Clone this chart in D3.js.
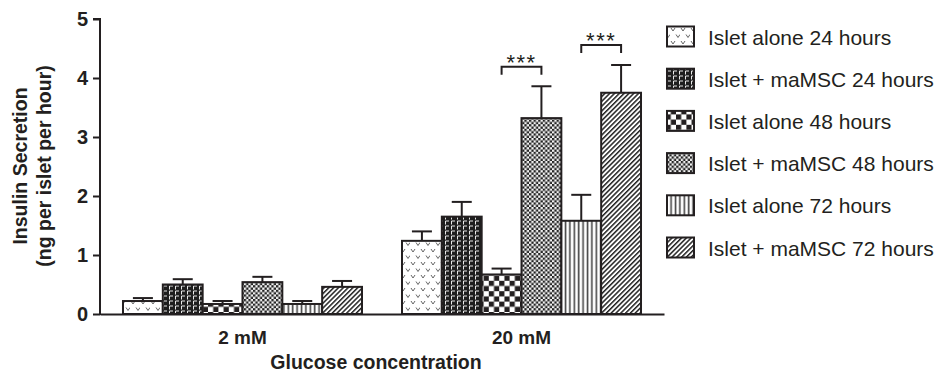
<!DOCTYPE html>
<html>
<head>
<meta charset="utf-8">
<script src="https://cdn.jsdelivr.net/npm/d3@7"></script>
<style>
  body { margin: 0; background: #fff; }
  svg { display: block; font-family: "Liberation Sans", Arial, sans-serif; }
</style>
</head>
<body>
<svg id="chart"></svg>
<script>
// data
let groups = ["2 mM", "20 mM"];
let series = ["Islet alone 24 hours", "Islet + maMSC 24 hours", "Islet alone 48 hours",
              "Islet + maMSC 48 hours", "Islet alone 72 hours", "Islet + maMSC 72 hours"];
let means2mM = [0.22, 0.50, 0.17, 0.54, 0.17, 0.46];
let means20mM = [1.24, 1.65, 0.67, 3.32, 1.58, 3.75];
let sem2mM = [0.05, 0.09, 0.05, 0.09, 0.05, 0.10];
let sem20mM = [0.16, 0.25, 0.10, 0.54, 0.44, 0.47];
let yTicks = [0, 1, 2, 3, 4, 5];
// significance brackets: group, the two series compared, bracket level (data units)
let sigGroup = ["20 mM", "20 mM"];
let sigFrom = [2, 4];
let sigTo = [3, 5];
let sigLevel = [4.19, 4.56];
let sigLabel = ["***", "***"];

let width = 937;
let height = 376;
let ink = "#231f20";

let svg = d3.select("#chart").attr("width", width).attr("height", height);

// patterns
let defs = svg.append("defs");
let patIds = ["p0", "p1", "p2", "p3", "p4", "p5"];

// 0: small v marks on white
let p0 = defs.append("pattern").attr("id", "p0").attr("patternUnits", "userSpaceOnUse")
  .attr("width", 10).attr("height", 13);
p0.append("rect").attr("width", 10).attr("height", 13).attr("fill", "#fff");
p0.append("path").attr("d", "M1,2 L3,5 L5,2 M6,8.5 L8,11.5 L10,8.5")
  .attr("fill", "none").attr("stroke", "#666").attr("stroke-width", 1);

// 1: dark with white brick marks
let p1 = defs.append("pattern").attr("id", "p1").attr("patternUnits", "userSpaceOnUse")
  .attr("width", 6).attr("height", 5);
p1.append("rect").attr("width", 6).attr("height", 5).attr("fill", "#1e1e1e");
p1.append("path").attr("d", "M1.5,1 L5,1 M1.5,1 L1.5,4.5").attr("fill", "none")
  .attr("stroke", "#e8e8e8").attr("stroke-width", 1);

// 2: coarse checkerboard
let p2 = defs.append("pattern").attr("id", "p2").attr("patternUnits", "userSpaceOnUse")
  .attr("width", 10.4).attr("height", 10.4);
p2.append("rect").attr("width", 10.4).attr("height", 10.4).attr("fill", "#fff");
p2.append("rect").attr("width", 5.2).attr("height", 5.2).attr("fill", ink);
p2.append("rect").attr("x", 5.2).attr("y", 5.2).attr("width", 5.2).attr("height", 5.2).attr("fill", ink);

// 3: fine checkerboard
let p3 = defs.append("pattern").attr("id", "p3").attr("patternUnits", "userSpaceOnUse")
  .attr("width", 4.6).attr("height", 4.6);
p3.append("rect").attr("width", 4.6).attr("height", 4.6).attr("fill", "#f4f4f4");
p3.append("rect").attr("width", 2.3).attr("height", 2.3).attr("fill", "#222");
p3.append("rect").attr("x", 2.3).attr("y", 2.3).attr("width", 2.3).attr("height", 2.3).attr("fill", "#222");

// 4: vertical lines
let p4 = defs.append("pattern").attr("id", "p4").attr("patternUnits", "userSpaceOnUse")
  .attr("width", 4.4).attr("height", 10);
p4.append("rect").attr("width", 4.4).attr("height", 10).attr("fill", "#fff");
p4.append("rect").attr("x", 1.5).attr("width", 1.6).attr("height", 10).attr("fill", "#444");

// 5: diagonal lines
let p5 = defs.append("pattern").attr("id", "p5").attr("patternUnits", "userSpaceOnUse")
  .attr("width", 3.4).attr("height", 10).attr("patternTransform", "rotate(45)");
p5.append("rect").attr("width", 3.4).attr("height", 10).attr("fill", "#fff");
p5.append("rect").attr("width", 1.5).attr("height", 10).attr("fill", "#222");

// scales
let x0 = d3.scaleBand().domain(groups).range([100, 664])
  .paddingInner(0.1434).paddingOuter(0.0824);
let x1 = d3.scaleBand().domain(d3.range(series.length)).range([0, x0.bandwidth()]);
let y = d3.scaleLinear().domain([0, 5]).range([314, 19]);

let means = { "2 mM": means2mM, "20 mM": means20mM };
let sems = { "2 mM": sem2mM, "20 mM": sem20mM };

let rows = [];
groups.forEach(g => {
  series.forEach((s, i) => {
    rows.push({ group: g, i: i, mean: means[g][i], sem: sems[g][i] });
  });
});

// bars
svg.append("g").selectAll("rect")
  .data(rows).enter().append("rect")
  .attr("x", d => x0(d.group) + x1(d.i))
  .attr("y", d => y(d.mean))
  .attr("width", x1.bandwidth())
  .attr("height", d => y(0) - y(d.mean))
  .attr("fill", d => "url(#" + patIds[d.i] + ")")
  .attr("stroke", ink).attr("stroke-width", 2);

// error bars (upper only)
let eb = svg.append("g").attr("stroke", ink).attr("stroke-width", 2);
rows.forEach(d => {
  let cx = x0(d.group) + x1(d.i) + x1.bandwidth() / 2;
  eb.append("line").attr("x1", cx).attr("x2", cx)
    .attr("y1", y(d.mean)).attr("y2", y(d.mean + d.sem));
  eb.append("line").attr("x1", cx - 10).attr("x2", cx + 10)
    .attr("y1", y(d.mean + d.sem)).attr("y2", y(d.mean + d.sem));
});

// axes
let yAxis = d3.axisLeft(y).tickValues(yTicks).tickSize(7).tickPadding(5).tickFormat(d3.format("d"));
let gy = svg.append("g").attr("transform", "translate(100,0)").call(yAxis);
gy.select(".domain").attr("stroke", ink).attr("stroke-width", 2).attr("d", "M-7,19H0V315");
gy.selectAll(".tick line").attr("stroke", ink).attr("stroke-width", 2);
gy.selectAll(".tick text").attr("fill", ink).style("font-size", "20px").style("font-weight", "bold")
  .style("font-family", "'Liberation Sans', Arial, sans-serif");

let xAxis = d3.axisBottom(x0).tickSize(0).tickPadding(17);
let gx = svg.append("g").attr("transform", "translate(0,314)").call(xAxis);
gx.select(".domain").attr("stroke", ink).attr("stroke-width", 2);
gx.selectAll(".tick text").attr("fill", ink).style("font-size", "19px").style("font-weight", "bold")
  .style("font-family", "'Liberation Sans', Arial, sans-serif");

// axis titles
svg.append("text").attr("x", (100 + 664) / 2 - 6).attr("y", 369)
  .attr("text-anchor", "middle").attr("fill", ink)
  .style("font-size", "19.5px").style("font-weight", "bold")
  .text("Glucose concentration");

let yt = svg.append("g").attr("transform", "translate(0,166) rotate(-90)");
yt.append("text").attr("x", 0).attr("y", 27).attr("text-anchor", "middle").attr("fill", ink)
  .style("font-size", "19.5px").style("font-weight", "bold").text("Insulin Secretion");
yt.append("text").attr("x", 0).attr("y", 51).attr("text-anchor", "middle").attr("fill", ink)
  .style("font-size", "19.5px").style("font-weight", "bold").text("(ng per islet per hour)");

// significance brackets
let sg = svg.append("g");
sigLevel.forEach((lv, k) => {
  let xa = x0(sigGroup[k]) + x1(sigFrom[k]) + x1.bandwidth() / 2;
  let xb = x0(sigGroup[k]) + x1(sigTo[k]) + x1.bandwidth() / 2;
  let yl = y(lv);
  sg.append("path").attr("d", "M" + xa + "," + (yl + 8) + "V" + yl + "H" + xb + "V" + (yl + 8))
    .attr("fill", "none").attr("stroke", ink).attr("stroke-width", 2);
  sg.append("text").attr("x", (xa + xb) / 2).attr("y", yl + 3)
    .attr("text-anchor", "middle").attr("fill", ink)
    .style("font-size", "22px").style("letter-spacing", "1.5px").text(sigLabel[k]);
});

// legend
let lg = svg.append("g");
series.forEach((s, i) => {
  let cy = 36.5 + i * 42.2;
  lg.append("rect").attr("x", 667).attr("y", cy - 10).attr("width", 27).attr("height", 20)
    .attr("fill", "url(#" + patIds[i] + ")").attr("stroke", ink).attr("stroke-width", 2);
  lg.append("text").attr("x", 708).attr("y", cy + 8).attr("fill", ink)
    .style("font-size", "21px").text(s);
});
</script>
</body>
</html>
